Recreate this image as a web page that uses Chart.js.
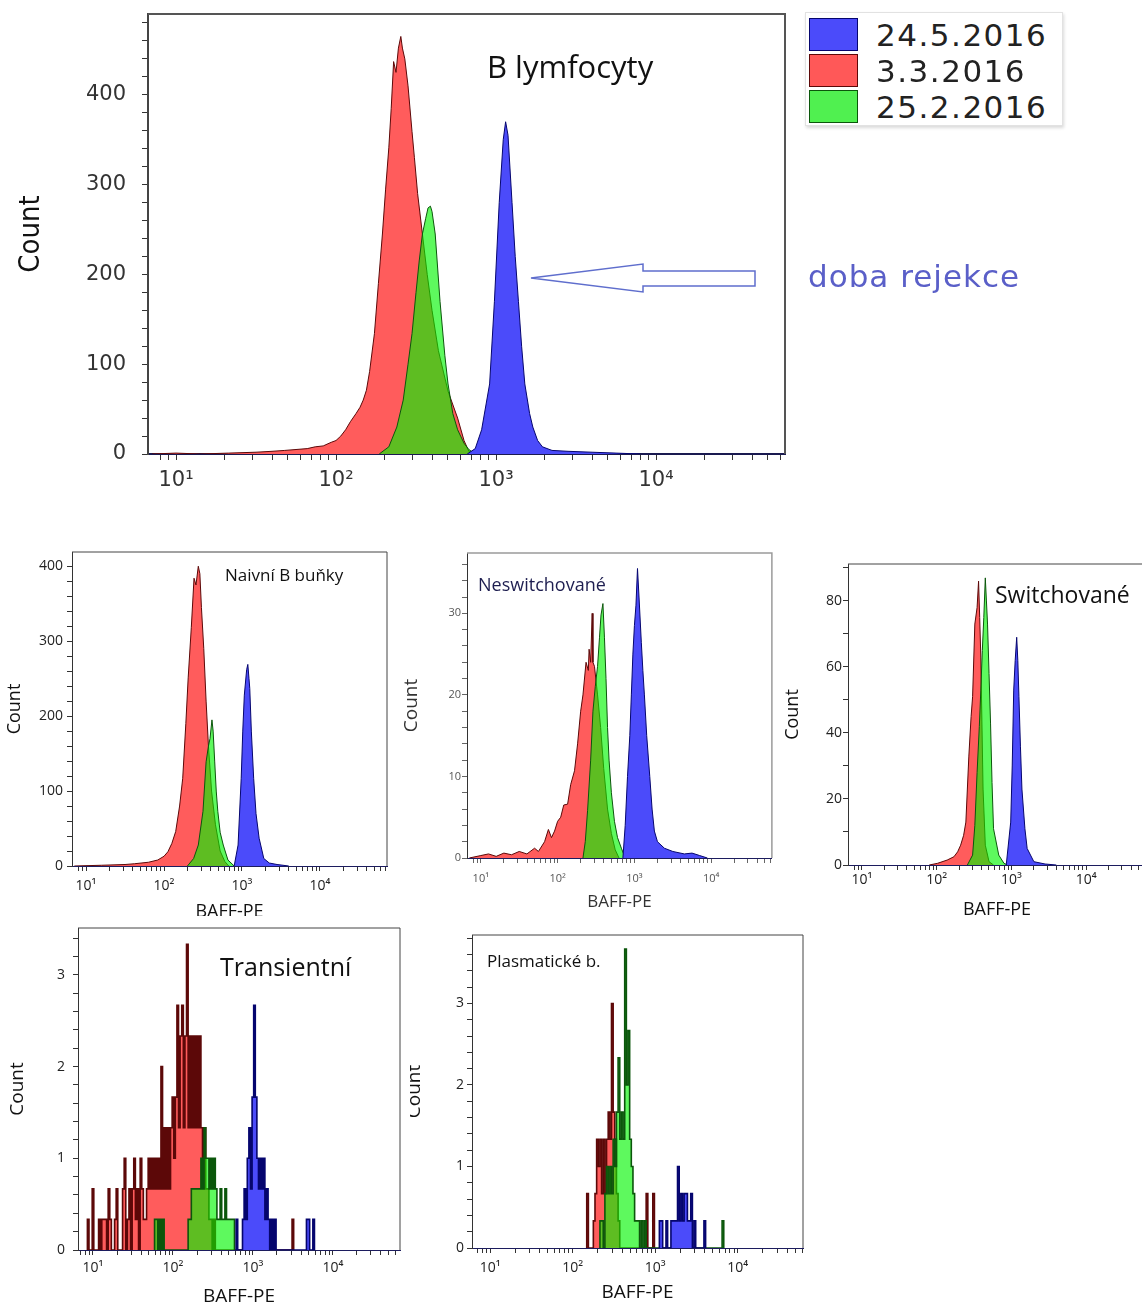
<!DOCTYPE html>
<html>
<head>
<meta charset="utf-8">
<script src="https://cdn.jsdelivr.net/npm/chart.js@4.4.1/dist/chart.umd.min.js"></script>
<style>
  html, body { margin: 0; padding: 0; background: #fff; width: 1142px; height: 1306px; overflow: hidden; position: relative; }
  .panel { position: absolute; }
  .lbl { position: absolute; white-space: nowrap; transform: translateY(-50%); font-family: "Open Sans", sans-serif; color: #111; }
  #legend { position: absolute; left: 805px; top: 12px; width: 256px; height: 112px; background: #fff;
            border: 1px solid #e2e2e2; box-shadow: 1px 2px 3px rgba(0,0,0,0.15); }
  .sw { position: absolute; left: 3px; width: 47px; height: 31px; border: 1.5px solid #333; }
  .lt { position: absolute; left: 70px; transform: translateY(-50%); font: 31px "DejaVu Sans", sans-serif;
        letter-spacing: 1.5px; color: #222; white-space: nowrap; }
</style>
</head>
<body>
<script>
// x = log10(BAFF-PE) channel, y = count
const LEGEND = ['24.5.2016', '3.3.2016', '25.2.2016'];
const X_TICK_LABELS = ['10¹', '10²', '10³', '10⁴'];

// B lymfocyty
const bLymBlue = [[2.82,0],[2.87,6],[2.91,27],[2.96,78],[2.99,170],[3.02,280],[3.045,350],[3.06,370],[3.075,355],[3.1,280],
  [3.12,220],[3.14,170],[3.16,120],[3.18,78],[3.21,45],[3.23,30],[3.26,15],[3.29,8],[3.35,4],[3.45,3],[3.6,2],[3.75,1],[3.9,0]];
const bLymRed = [[0.85,0],[1.0,1],[1.15,0],[1.33,1],[1.5,2],[1.6,3],[1.68,4],[1.75,5],[1.82,6],[1.87,8],[1.92,9],[1.97,13],
  [2.0,15],[2.03,20],[2.06,27],[2.09,36],[2.125,45],[2.15,52],[2.17,60],[2.19,71],[2.21,92],[2.24,134],[2.265,190],[2.29,245],
  [2.31,295],[2.33,341],[2.345,385],[2.36,437],[2.375,425],[2.39,452],[2.405,465],[2.415,452],[2.43,440],[2.45,410],[2.475,359],
  [2.49,330],[2.51,290],[2.54,245],[2.57,200],[2.6,160],[2.64,115],[2.7,70],[2.76,40],[2.8,15],[2.83,3],[2.86,0]];
const bLymGreen = [[2.27,0],[2.33,8],[2.38,30],[2.42,60],[2.45,100],[2.475,134],[2.5,180],[2.52,215],[2.54,245],[2.56,262],
  [2.575,274],[2.59,276],[2.6,270],[2.62,245],[2.65,170],[2.68,110],[2.7,78],[2.73,45],[2.76,27],[2.8,12],[2.83,5],[2.87,0]];

// Naivní B buňky
const naivBlue = [[2.9,0],[2.95,28],[2.99,117],[3.01,180],[3.03,228],[3.06,262],[3.075,269],[3.09,250],[3.1,237],[3.12,180],
  [3.15,117],[3.18,70],[3.22,37],[3.28,10],[3.35,4],[3.45,2],[3.6,0]];
const naivRed = [[0.85,0],[1.2,1],[1.5,2],[1.62,3],[1.8,5],[1.92,8],[2.0,13],[2.05,19],[2.1,30],[2.15,46],[2.2,80],[2.24,117],
  [2.28,190],[2.31,251],[2.35,318],[2.385,384],[2.41,375],[2.44,400],[2.46,390],[2.48,345],[2.51,290],[2.54,220],[2.57,160],
  [2.61,100],[2.66,55],[2.72,20],[2.78,6],[2.83,0]];
const naivGreen = [[2.3,0],[2.38,10],[2.44,28],[2.5,73],[2.54,139],[2.57,160],[2.59,170],[2.615,195],[2.63,180],[2.65,140],
  [2.67,100],[2.69,73],[2.72,45],[2.76,28],[2.82,8],[2.9,0]];

// Neswitchované
const neswBlue = [[2.85,0],[2.88,4],[2.91,10],[2.94,15],[2.96,20],[2.98,25],[3.0,28.5],[3.02,31],[3.04,35.5],[3.06,32],
  [3.09,26.4],[3.11,23],[3.13,20],[3.16,15],[3.2,10],[3.23,6],[3.26,3.3],[3.3,2],[3.39,1.2],[3.5,0.8],[3.65,0.5],[3.75,0.6],
  [3.85,0.3],[3.95,0]];
const neswRed = [[0.85,0],[1.0,0.3],[1.1,0.5],[1.2,0.2],[1.3,0.6],[1.4,0.4],[1.5,0.8],[1.6,0.5],[1.7,1.2],[1.75,0.8],[1.83,2],
  [1.88,3.5],[1.92,2.5],[1.96,3.3],[2.0,4.5],[2.04,5],[2.08,6.5],[2.13,6.6],[2.17,9],[2.22,10.7],[2.26,14],[2.3,18],[2.33,20],
  [2.37,24],[2.4,23],[2.41,25.6],[2.43,24],[2.45,30],[2.46,24],[2.48,23.5],[2.52,20],[2.56,16],[2.6,11],[2.65,6],[2.7,3],
  [2.75,1],[2.8,0]];
const neswGreen = [[2.33,0],[2.36,2],[2.39,5.8],[2.43,12],[2.46,18],[2.49,21],[2.52,23.5],[2.545,27],[2.565,29.8],[2.59,31.2],
  [2.61,27],[2.63,22],[2.65,16],[2.67,12],[2.7,8],[2.74,4.5],[2.78,2.5],[2.83,1.2],[2.88,0]];

// Switchované
const swBlue = [[2.93,0],[2.99,13],[3.01,30],[3.03,53],[3.05,62],[3.07,69],[3.085,62],[3.1,51],[3.12,36],[3.14,23],[3.18,11],
  [3.21,5],[3.3,1],[3.45,0.3],[3.6,0]];
const swRed = [[1.9,0],[2.01,0.5],[2.14,1.5],[2.23,2.5],[2.28,4],[2.32,6],[2.36,9],[2.39,13],[2.43,33],[2.46,45],[2.48,51],
  [2.51,73],[2.54,78],[2.56,86],[2.575,75],[2.59,63],[2.62,23],[2.65,6],[2.7,1],[2.76,0]];
const swGreen = [[2.41,0],[2.48,3],[2.51,12],[2.54,28],[2.57,42],[2.59,53],[2.61,65],[2.63,75],[2.65,87],[2.665,80],[2.68,73],
  [2.7,58],[2.72,43],[2.74,25],[2.76,11],[2.83,3],[2.9,0.5],[2.95,0]];

// sparse panels: channel width BIN (decades), counts in thirds of an event
const BIN = 0.02;
const transBlue = [[2.80,1],[2.88,1],[2.90,2],[2.92,1],[2.94,3],[2.96,4],[2.98,2],[3.00,5],[3.02,8],[3.04,5],[3.06,3],[3.08,2],
  [3.10,3],[3.12,2],[3.14,3],[3.16,1],[3.18,2],[3.20,1],[3.24,1],[3.28,1],[3.68,1],[3.70,1],[3.76,1]];
const transRed = [[0.94,1],[1.00,2],[1.08,1],[1.12,1],[1.14,1],[1.16,1],[1.20,2],[1.22,1],[1.28,1],[1.30,2],[1.38,2],[1.40,3],
  [1.44,1],[1.46,2],[1.50,2],[1.52,3],[1.54,1],[1.56,2],[1.60,3],[1.62,2],[1.64,1],[1.66,1],[1.68,2],[1.70,3],[1.72,2],[1.74,3],
  [1.76,2],[1.78,3],[1.80,2],[1.82,3],[1.84,2],[1.86,6],[1.88,2],[1.90,4],[1.92,2],[1.94,4],[1.96,2],[1.98,4],[2.00,5],[2.02,3],
  [2.04,5],[2.06,8],[2.08,4],[2.10,7],[2.12,8],[2.14,4],[2.16,7],[2.18,10],[2.20,4],[2.22,7],[2.24,4],[2.26,7],[2.28,4],[2.30,7],
  [2.32,4],[2.34,7],[2.36,4],[2.38,3],[2.40,4],[2.42,2],[2.44,2],[2.46,1],[2.48,1],[2.52,1],[3.50,1]];
const transGreen = [[1.78,1],[1.80,1],[1.84,1],[1.88,1],[2.20,1],[2.22,1],[2.24,2],[2.26,2],[2.28,2],[2.30,2],[2.32,2],[2.34,2],
  [2.36,3],[2.38,2],[2.40,4],[2.42,3],[2.44,3],[2.46,2],[2.48,3],[2.50,2],[2.52,3],[2.54,2],[2.56,1],[2.58,1],[2.60,2],[2.62,1],
  [2.64,1],[2.66,2],[2.68,1],[2.70,1],[2.72,1],[2.74,1],[2.76,1]];

const plasBlue = [[3.06,1],[3.08,1],[3.14,1],[3.20,1],[3.22,1],[3.24,1],[3.26,1],[3.28,3],[3.30,1],[3.32,2],[3.34,1],[3.36,2],
  [3.38,2],[3.40,1],[3.42,1],[3.44,2],[3.48,1],[3.60,1]];
const plasRed = [[2.18,2],[2.26,1],[2.28,2],[2.30,4],[2.32,3],[2.34,4],[2.36,2],[2.38,4],[2.40,2],[2.42,4],[2.44,5],[2.46,4],
  [2.48,9],[2.50,5],[2.52,4],[2.54,2],[2.56,1],[2.90,2],[2.98,2]];
const plasGreen = [[2.34,1],[2.36,1],[2.40,2],[2.42,3],[2.44,2],[2.46,3],[2.48,2],[2.50,4],[2.52,3],[2.54,5],[2.56,7],[2.58,4],
  [2.60,5],[2.62,4],[2.64,11],[2.66,6],[2.68,8],[2.70,4],[2.72,3],[2.74,2],[2.76,1],[2.78,1],[2.80,1],[2.84,1],[2.88,1],[3.82,1]];

const STYLE = {
  blue:  { borderColor: '#05056e', backgroundColor: 'rgb(75,75,250)' },
  red:   { borderColor: '#5c0808', backgroundColor: 'rgb(255,92,92)' },
  green: { borderColor: '#0b560b', backgroundColor: 'rgba(0,245,0,0.63)' }
};

function smooth(arr) {
  return arr.map(([lg, c]) => ({ x: Math.pow(10, lg), y: c }));
}
function spiky(arr) {
  const pts = [];
  arr.forEach(([lg, t], i) => {
    const prev = arr[i - 1], next = arr[i + 1];
    if (!prev || lg - prev[0] > BIN * 1.5) pts.push({ x: Math.pow(10, lg - BIN), y: 0 });
    pts.push({ x: Math.pow(10, lg), y: t / 3 });
    if (!next || next[0] - lg > BIN * 1.5) pts.push({ x: Math.pow(10, lg + BIN), y: 0 });
  });
  return pts;
}

// top and right edges of the plot box
Chart.register({
  id: 'frame',
  defaults: { color: '#444', width: 1 },
  afterDraw(chart, args, opts) {
    const { ctx, chartArea: a } = chart;
    ctx.save();
    ctx.strokeStyle = opts.color;
    ctx.lineWidth = opts.width;
    ctx.beginPath();
    ctx.moveTo(a.left, a.top);
    ctx.lineTo(a.right, a.top);
    ctx.lineTo(a.right, a.bottom);
    ctx.stroke();
    ctx.restore();
  }
});

function isMult(v, every) {
  const r = v / every;
  return Math.abs(r - Math.round(r)) < 1e-6;
}

function makePanel(p) {
  const [bx, by, bw, bh] = p.box;
  const [al, at, ar, ab] = p.area;
  const div = document.createElement('div');
  div.className = 'panel';
  div.style.cssText = `left:${bx}px;top:${by}px;width:${bw}px;height:${bh}px;`;
  const cv = document.createElement('canvas');
  cv.width = bw;
  cv.height = bh;
  div.appendChild(cv);
  document.body.appendChild(div);

  const build = p.spiky ? spiky : smooth;
  const datasets = p.series.map(([data, color]) => ({
    data: build(data),
    ...STYLE[color],
    fill: 'origin',
    borderWidth: p.spiky ? 1.6 : 1,
    pointRadius: 0,
    tension: 0,
    stepped: p.spiky ? 'middle' : false
  }));

  new Chart(cv, {
    type: 'line',
    data: { datasets },
    options: {
      responsive: false,
      animation: false,
      devicePixelRatio: 1,
      layout: { padding: { top: at - by, right: bx + bw - ar, left: 0, bottom: 0 } },
      plugins: {
        legend: { display: false },
        tooltip: { enabled: false },
        frame: { color: p.frameColor, width: p.frameWidth }
      },
      scales: {
        x: {
          type: 'logarithmic',
          min: Math.pow(10, p.xLog[0]),
          max: Math.pow(10, p.xLog[1]),
          afterFit: s => { s.height = by + bh - ab; },
          afterBuildTicks: s => {
            s.ticks = s.ticks.filter(t => {
              const m = t.value / Math.pow(10, Math.floor(Math.log10(t.value) + 1e-9));
              return Math.abs(m - Math.round(m)) < 1e-6;
            });
          },
          ticks: {
            autoSkip: false, maxRotation: 0, minRotation: 0,
            padding: p.xTickPad, color: p.tickColor, font: p.tickFont,
            callback: v => {
              const e = Math.log10(v);
              return Math.abs(e - Math.round(e)) < 1e-9 ? (X_TICK_LABELS[Math.round(e) - 1] || '') : '';
            }
          },
          grid: { drawOnChartArea: false, drawTicks: true, tickLength: p.tickLen, tickColor: p.tickMarkColor, tickWidth: 1 },
          border: { display: true, color: p.xBorder, width: p.axisWidth },
          title: p.xTitle ? { display: true, text: p.xTitle, color: p.titleColor, font: p.xTitleFont,
                              padding: { top: 0, bottom: p.xTitlePad } } : { display: false }
        },
        y: {
          type: 'linear',
          min: 0,
          max: p.yMax,
          afterFit: s => { s.width = al - bx; },
          ticks: {
            stepSize: p.yStep, includeBounds: false, autoSkip: false,
            padding: p.yTickPad, color: p.tickColor, font: p.tickFont,
            callback: v => isMult(v, p.yEvery) ? String(Math.round(v)) : ''
          },
          grid: { drawOnChartArea: false, drawTicks: true, tickLength: p.tickLen, tickColor: p.tickMarkColor, tickWidth: 1 },
          border: { display: true, color: p.yBorder, width: p.axisWidth },
          title: { display: true, text: 'Count', color: p.titleColor, font: p.yTitleFont,
                   padding: { top: p.yTitlePad, bottom: 0 } }
        }
      }
    }
  });
}

const OPEN = '"Open Sans", "DejaVu Sans", sans-serif';
const common = {
  tickColor: '#222', tickMarkColor: '#333', titleColor: '#111', frameColor: '#444', frameWidth: 1,
  axisWidth: 1, xBorder: '#1c1c5e', yBorder: '#333', tickLen: 5,
  tickFont: { family: OPEN, size: 14 }, xTitleFont: { family: OPEN, size: 18 }, yTitleFont: { family: OPEN, size: 18 }
};

// B lymfocyty
makePanel({ ...common,
  box: [0, -30, 800, 535], area: [148, 14, 785, 454], xLog: [0.825, 4.806], yMax: 490, yStep: 20, yEvery: 100,
  series: [[bLymBlue, 'blue'], [bLymGreen, 'green'], [bLymRed, 'red']],
  tickFont: { family: '"DejaVu Sans", sans-serif', size: 21 }, tickColor: '#333', tickLen: 6,
  xTickPad: 8, yTickPad: 16, frameColor: '#555', frameWidth: 2, axisWidth: 2, xBorder: '#1a1a50', yBorder: '#444',
  yTitleFont: { family: '"Liberation Sans Narrow", "DejaVu Sans Condensed", "Liberation Sans", sans-serif', size: 29 },
  yTitlePad: 14 });

// Naivní B buňky
makePanel({ ...common,
  box: [0, 530, 400, 386], area: [72, 552, 387, 866], xLog: [0.82, 4.86], yMax: 419, yStep: 20, yEvery: 100,
  series: [[naivBlue, 'blue'], [naivGreen, 'green'], [naivRed, 'red']],
  xTickPad: 6.6, yTickPad: 4, xTitle: 'BAFF-PE', xTitlePad: -7, yTitlePad: 4.2 });

// Neswitchované
makePanel({ ...common,
  box: [400, 530, 380, 385], area: [467, 553, 772, 858], xLog: [0.82, 4.79], yMax: 37.4, yStep: 2, yEvery: 10,
  series: [[neswBlue, 'blue'], [neswGreen, 'green'], [neswRed, 'red']],
  tickFont: { family: OPEN, size: 11 }, tickColor: '#555', tickMarkColor: '#666', frameColor: '#9a9a9a', frameWidth: 1.5,
  xTickPad: 9, yTickPad: 1, xTitle: 'BAFF-PE', xTitleFont: { family: OPEN, size: 17 }, xTitlePad: 3,
  yTitleFont: { family: OPEN, size: 19 }, yTitlePad: 0.6, titleColor: '#333' });

// Switchované
makePanel({ ...common,
  box: [780, 540, 380, 380], area: [848, 564, 1146, 865], xLog: [0.813, 4.8], yMax: 91.2, yStep: 10, yEvery: 20,
  series: [[swBlue, 'blue'], [swGreen, 'green'], [swRed, 'red']],
  xTickPad: 1.6, yTickPad: 1, xTitle: 'BAFF-PE', xTitlePad: -1, yTitlePad: 2.2 });

// Transientní
makePanel({ ...common,
  box: [0, 905, 410, 401], area: [78, 928, 400, 1250], xLog: [0.8125, 4.84], yMax: 3.51, yStep: 0.2, yEvery: 1,
  series: [[transBlue, 'blue'], [transGreen, 'green'], [transRed, 'red']], spiky: true,
  xTickPad: 4.6, yTickPad: 8, xTitle: 'BAFF-PE', xTitleFont: { family: OPEN, size: 19 }, xTitlePad: -2.4,
  yTitleFont: { family: OPEN, size: 19 }, yTitlePad: 6.6 });

// Plasmatické b.
makePanel({ ...common,
  box: [410, 912, 400, 394], area: [472, 935, 803, 1248], xLog: [0.78, 4.79], yMax: 3.84, yStep: 0.2, yEvery: 1,
  series: [[plasBlue, 'blue'], [plasGreen, 'green'], [plasRed, 'red']], spiky: true,
  xTickPad: 6.6, yTickPad: 3, xTitle: 'BAFF-PE', xTitleFont: { family: OPEN, size: 19 }, xTitlePad: 1.6,
  yTitleFont: { family: OPEN, size: 19 }, yTitlePad: -6.4 });

// panel labels
const LABELS = [
  ['B lymfocyty', 487, 66, 31, '#111'],
  ['Naivní B buňky', 225, 574, 17, '#111'],
  ['Neswitchované', 478, 584, 18, '#1e1e50'],
  ['Switchované', 995, 594, 23, '#111'],
  ['Transientní', 220, 966, 25, '#111'],
  ['Plasmatické b.', 487, 960, 17, '#111']
];
LABELS.forEach(([t, x, y, s, c]) => {
  const d = document.createElement('div');
  d.className = 'lbl';
  d.textContent = t;
  d.style.cssText = `left:${x}px;top:${y}px;font-size:${s}px;color:${c};`;
  document.body.appendChild(d);
});

// legend
const lg = document.createElement('div');
lg.id = 'legend';
const legendColors = [
  ['rgb(75,75,250)', '#05056e'], ['rgb(255,88,88)', '#5c0808'], ['rgb(80,240,80)', '#0b560b']
];
LEGEND.forEach((t, i) => {
  const sw = document.createElement('div');
  sw.className = 'sw';
  sw.style.top = (5 + i * 36) + 'px';
  sw.style.background = legendColors[i][0];
  sw.style.borderColor = legendColors[i][1];
  lg.appendChild(sw);
  const tx = document.createElement('div');
  tx.className = 'lt';
  tx.style.top = (22 + i * 36) + 'px';
  tx.textContent = t;
  lg.appendChild(tx);
});
document.body.appendChild(lg);

// rejection arrow and note
document.body.insertAdjacentHTML('beforeend',
  '<svg style="position:absolute;left:525px;top:255px" width="240" height="46">' +
  '<polygon points="6,23 118,9 118,16 230,16 230,31 118,31 118,37" fill="#fff" stroke="rgb(95,110,205)" stroke-width="1.5"/></svg>' +
  '<div class="lbl" style="left:808px;top:276px;font:31px \'DejaVu Sans\',sans-serif;letter-spacing:1px;color:rgb(90,95,200)">doba rejekce</div>');
</script>
</body>
</html>
